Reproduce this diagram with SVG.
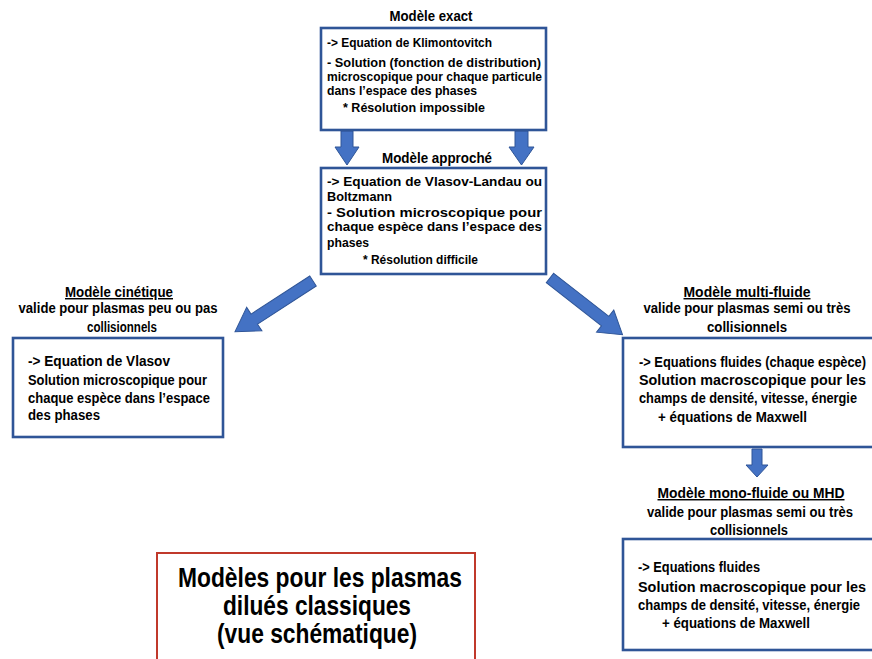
<svg xmlns="http://www.w3.org/2000/svg" width="872" height="659" viewBox="0 0 872 659">
<defs>
<style>
text{font-family:"Liberation Sans",Arial,sans-serif;font-weight:bold;fill:#000}
.s{font-size:13px}
.m{font-size:14.5px}
.t{font-size:14.5px;text-anchor:middle}
.u{text-decoration:underline}
.big{font-size:27px;text-anchor:middle}
.box{fill:#fff;stroke:#2F5597;stroke-width:2.6}
.red{fill:#fff;stroke:#C0392B;stroke-width:2}
.arr{fill:#4472C4;stroke:#2F5597;stroke-width:1}
</style>
</defs>
<rect width="872" height="659" fill="#fff"/>

<g id="connectors">
<path class="arr" d="M341,131 H353 V147 H359 L347,165 L335,147 H341 Z"/>
<path class="arr" d="M515,131 H528 V147 H534 L521.5,165 L509,147 H515 Z"/>
<path class="arr" transform="translate(313,281) rotate(147)" d="M0,-6 H70 V-14 L93,0 L70,14 V6 H0 Z"/>
<path class="arr" transform="translate(550,278) rotate(38)" d="M0,-6 H70 V-14 L92,0 L70,14 V6 H0 Z"/>
<path class="arr" d="M752,449 H762 V465 H768 L757,477 L746,465 H752 Z"/>
</g>

<g id="exact">
<text class="t" x="431" y="21" textLength="83" lengthAdjust="spacingAndGlyphs">Modèle exact</text>
<rect class="box" x="321" y="28" width="225" height="102"/>
<text class="s" x="327" y="47" textLength="165" lengthAdjust="spacingAndGlyphs">-&gt; Equation de Klimontovitch</text>
<text class="s" x="327" y="67" textLength="214" lengthAdjust="spacingAndGlyphs">- Solution (fonction de distribution)</text>
<text class="s" x="327" y="81" textLength="215" lengthAdjust="spacingAndGlyphs">microscopique pour chaque particule</text>
<text class="s" x="327" y="95" textLength="150" lengthAdjust="spacingAndGlyphs">dans l’espace des phases</text>
<text class="s" x="343" y="112" textLength="142" lengthAdjust="spacingAndGlyphs">* Résolution impossible</text>
</g>

<g id="approche">
<text class="t" x="437" y="163" textLength="110" lengthAdjust="spacingAndGlyphs">Modèle approché</text>
<rect class="box" x="321" y="168" width="225" height="106"/>
<text class="s" x="327" y="186" textLength="215" lengthAdjust="spacingAndGlyphs">-&gt; Equation de Vlasov-Landau ou</text>
<text class="s" x="327" y="201" textLength="65" lengthAdjust="spacingAndGlyphs">Boltzmann</text>
<text class="s" x="327" y="217" textLength="215" lengthAdjust="spacingAndGlyphs">- Solution microscopique pour</text>
<text class="s" x="327" y="231" textLength="215" lengthAdjust="spacingAndGlyphs">chaque espèce dans l’espace des</text>
<text class="s" x="327" y="247" textLength="42" lengthAdjust="spacingAndGlyphs">phases</text>
<text class="s" x="363" y="264" textLength="115" lengthAdjust="spacingAndGlyphs">* Résolution difficile</text>
</g>

<g id="cinetique">
<text class="t u" x="119" y="297" textLength="108" lengthAdjust="spacingAndGlyphs">Modèle cinétique</text>
<text class="t" x="118" y="313" textLength="199" lengthAdjust="spacingAndGlyphs">valide pour plasmas peu ou pas</text>
<text class="t" x="122" y="332" textLength="70" lengthAdjust="spacingAndGlyphs">collisionnels</text>
<rect class="box" x="13" y="338" width="210" height="99"/>
<text class="m" x="28" y="366" textLength="142" lengthAdjust="spacingAndGlyphs">-&gt; Equation de Vlasov</text>
<text class="m" x="28" y="385" textLength="179" lengthAdjust="spacingAndGlyphs">Solution microscopique pour</text>
<text class="m" x="28" y="403" textLength="182" lengthAdjust="spacingAndGlyphs">chaque espèce dans l’espace</text>
<text class="m" x="28" y="420" textLength="72" lengthAdjust="spacingAndGlyphs">des phases</text>
</g>

<g id="multifluide">
<text class="t u" x="747" y="297" textLength="127" lengthAdjust="spacingAndGlyphs">Modèle multi-fluide</text>
<text class="t" x="747" y="313" textLength="207" lengthAdjust="spacingAndGlyphs">valide pour plasmas semi ou très</text>
<text class="t" x="747" y="332" textLength="80" lengthAdjust="spacingAndGlyphs">collisionnels</text>
<rect class="box" x="623" y="338" width="262" height="109"/>
<text class="m" x="639" y="367" textLength="227" lengthAdjust="spacingAndGlyphs">-&gt; Equations fluides (chaque espèce)</text>
<text class="m" x="639" y="385" textLength="227" lengthAdjust="spacingAndGlyphs">Solution macroscopique pour les</text>
<text class="m" x="639" y="403" textLength="218" lengthAdjust="spacingAndGlyphs">champs de densité, vitesse, énergie</text>
<text class="m" x="658" y="422" textLength="149" lengthAdjust="spacingAndGlyphs">+ équations de Maxwell</text>
</g>

<g id="monofluide">
<text class="t u" x="751" y="498" textLength="187" lengthAdjust="spacingAndGlyphs">Modèle mono-fluide ou MHD</text>
<text class="t" x="750" y="517" textLength="206" lengthAdjust="spacingAndGlyphs">valide pour plasmas semi ou très</text>
<text class="t" x="749" y="535" textLength="78" lengthAdjust="spacingAndGlyphs">collisionnels</text>
<rect class="box" x="623" y="539" width="262" height="111"/>
<text class="m" x="638" y="572" textLength="122" lengthAdjust="spacingAndGlyphs">-&gt; Equations fluides</text>
<text class="m" x="638" y="592" textLength="228" lengthAdjust="spacingAndGlyphs">Solution macroscopique pour les</text>
<text class="m" x="638" y="610" textLength="222" lengthAdjust="spacingAndGlyphs">champs de densité, vitesse, énergie</text>
<text class="m" x="662" y="628" textLength="148" lengthAdjust="spacingAndGlyphs">+ équations de Maxwell</text>
</g>

<g id="titre">
<rect class="red" x="157" y="553" width="318" height="120"/>
<text class="big" x="320" y="587" textLength="284" lengthAdjust="spacingAndGlyphs">Modèles pour les plasmas</text>
<text class="big" x="317" y="615" textLength="188" lengthAdjust="spacingAndGlyphs">dilués classiques</text>
<text class="big" x="317" y="643" textLength="200" lengthAdjust="spacingAndGlyphs">(vue schématique)</text>
</g>
</svg>
